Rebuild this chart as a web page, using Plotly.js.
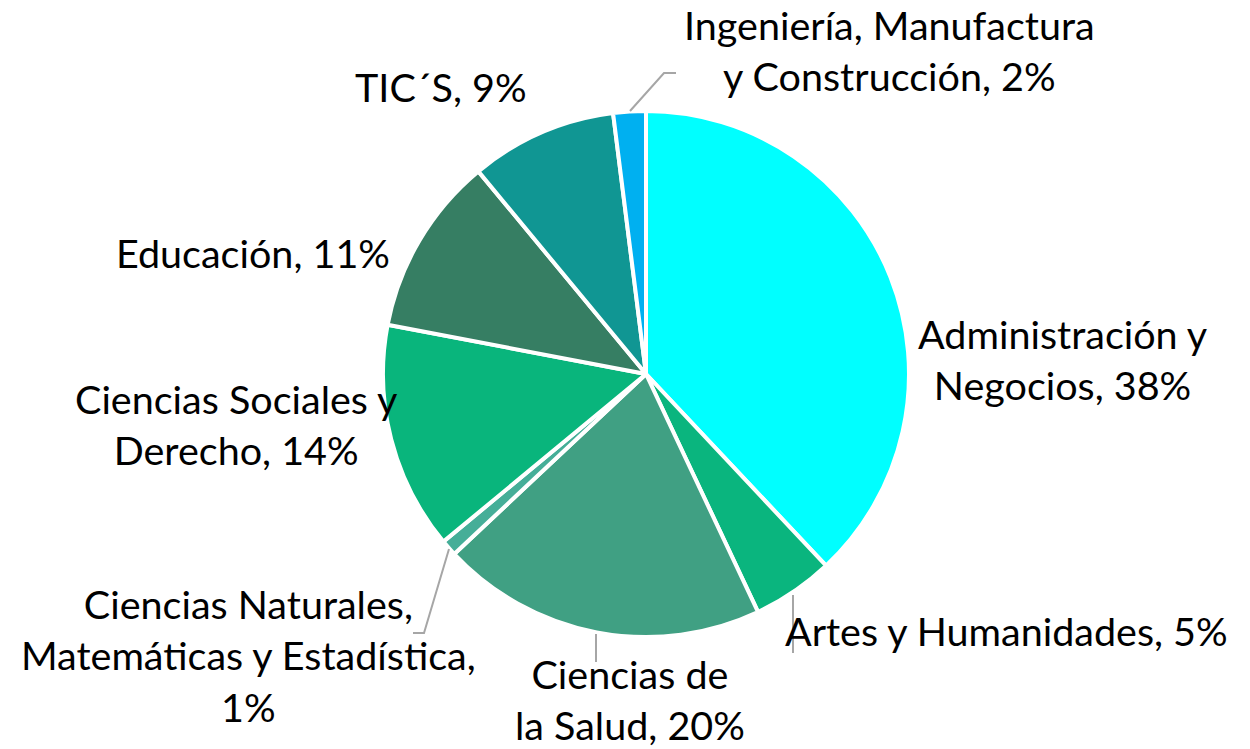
<!DOCTYPE html>
<html>
<head>
<meta charset="utf-8">
<script src="https://cdn.plot.ly/plotly-3.0.1.min.js"></script>
<style>html,body{margin:0;padding:0;background:#fff;}#chart{width:1250px;height:749px;}</style>
</head>
<body>
<div id="chart"></div>
<script>
var categories = ["Administración y Negocios", "Artes y Humanidades", "Ciencias de la Salud",
  "Ciencias Naturales, Matemáticas y Estadística", "Ciencias Sociales y Derecho",
  "Educación", "TIC´S", "Ingeniería, Manufactura y Construcción"];
var values = [38, 5, 20, 1, 14, 11, 9, 2];
var labelLines = [
  ["Administración y", "Negocios"],
  ["Artes y Humanidades"],
  ["Ciencias de", "la Salud"],
  ["Ciencias Naturales,", "Matemáticas y Estadística,", ""],
  ["Ciencias Sociales y", "Derecho"],
  ["Educación"],
  ["TIC´S"],
  ["Ingeniería, Manufactura", "y Construcción"]
];
var colors = ["#00FFFF", "#0AB57E", "#40A083", "#45AE98", "#09B57C", "#367E63", "#109693", "#00B0F0"];

var W = 1250, H = 749;
// label centre positions in pixels
var labelPos = [[1063, 359], [1006, 630], [630, 699], [249, 655], [236, 424], [253, 252], [441, 86], [889, 50]];

var annotations = labelLines.map(function (lines, i) {
  var ls = lines.slice();
  var last = ls[ls.length - 1];
  ls[ls.length - 1] = (last === "" ? "" : last + ", ") + values[i] + "%";
  return {
    text: ls.join("<br>"),
    x: labelPos[i][0] / W, y: 1 - labelPos[i][1] / H,
    xref: "paper", yref: "paper", xanchor: "center", yanchor: "middle",
    showarrow: false, align: "center",
    font: {family: "Lato, 'Open Sans', sans-serif", size: 39.5, color: "#000"}
  };
});

function seg(pts) {
  var d = pts.map(function (p, k) {
    return (k ? "L" : "M") + (p[0] / W) + "," + (1 - p[1] / H);
  }).join(" ");
  return {type: "path", xref: "paper", yref: "paper", path: d, line: {color: "#A6A6A6", width: 2}};
}
var shapes = [
  seg([[630, 111], [664, 73], [676, 73]]),
  seg([[449, 549], [424, 633], [413, 633]]),
  seg([[596, 634], [596, 662]]),
  seg([[793, 595], [793, 653]])
];

var data = [{
  type: "pie",
  labels: categories,
  values: values,
  sort: false,
  direction: "clockwise",
  rotation: 0,
  marker: {colors: colors, line: {color: "#FFFFFF", width: 4}},
  textinfo: "none",
  hoverinfo: "label+percent",
  domain: {x: [383 / W, 909 / W], y: [(H - 637) / H, (H - 111) / H]}
}];

var layout = {
  width: W, height: H,
  margin: {l: 0, r: 0, t: 0, b: 0},
  showlegend: false,
  paper_bgcolor: "#FFFFFF",
  annotations: annotations,
  shapes: shapes
};

Plotly.newPlot("chart", data, layout, {displayModeBar: false, staticPlot: true});
</script>
</body>
</html>
